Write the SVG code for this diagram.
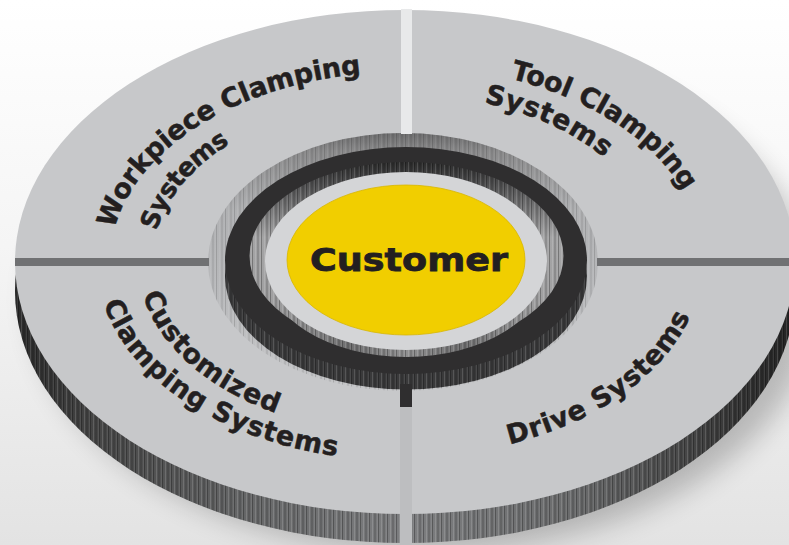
<svg xmlns="http://www.w3.org/2000/svg" width="789" height="545" viewBox="0 0 789 545">
  <style>
    .lbl { font-family: "DejaVu Sans", "Liberation Sans", sans-serif; font-weight: bold; font-size: 27px; letter-spacing: 0.8px; fill: #231f20; stroke: #231f20; stroke-width: 0.5px; }
    .tight { letter-spacing: -0.2px; }
    .ctr { font-family: "DejaVu Sans", "Liberation Sans", sans-serif; font-weight: bold; font-size: 32px; fill: #231f20; stroke: #231f20; stroke-width: 0.8px; }
  </style>
  <defs>
    <linearGradient id="bg" x1="0" y1="0" x2="0" y2="1">
      <stop offset="0" stop-color="#ffffff"/>
      <stop offset="0.45" stop-color="#f5f5f5"/>
      <stop offset="1" stop-color="#e3e3e3"/>
    </linearGradient>
    <linearGradient id="side" gradientUnits="userSpaceOnUse" x1="15" y1="0" x2="795" y2="0">
      <stop offset="0" stop-color="#2a2a2a"/>
      <stop offset="0.1" stop-color="#454545"/>
      <stop offset="0.3" stop-color="#666768"/>
      <stop offset="0.5" stop-color="#7d7e80"/>
      <stop offset="0.72" stop-color="#6a6b6c"/>
      <stop offset="0.9" stop-color="#3c3c3c"/>
      <stop offset="1" stop-color="#222222"/>
    </linearGradient>
    <pattern id="stripes" width="9" height="10" patternUnits="userSpaceOnUse">
      <rect x="0" y="0" width="1" height="10" fill="#000" opacity="0.28"/>
      <rect x="3" y="0" width="1" height="10" fill="#fff" opacity="0.14"/>
      <rect x="5" y="0" width="2" height="10" fill="#000" opacity="0.14"/>
      <rect x="8" y="0" width="1" height="10" fill="#fff" opacity="0.08"/>
    </pattern>
    <linearGradient id="hole" gradientUnits="userSpaceOnUse" x1="0" y1="133" x2="0" y2="391">
      <stop offset="0" stop-color="#6c6c6d"/>
      <stop offset="0.07" stop-color="#8a8a8b"/>
      <stop offset="0.3" stop-color="#b0b1b3"/>
      <stop offset="1" stop-color="#c4c5c7"/>
    </linearGradient>
    <linearGradient id="inner" gradientUnits="userSpaceOnUse" x1="0" y1="162" x2="0" y2="350">
      <stop offset="0" stop-color="#2b2b2b"/>
      <stop offset="0.1" stop-color="#4a4a4b"/>
      <stop offset="0.4" stop-color="#a4a4a5"/>
      <stop offset="0.75" stop-color="#a0a0a1"/>
      <stop offset="1" stop-color="#6a6a6a"/>
    </linearGradient>
    <linearGradient id="lside" gradientUnits="userSpaceOnUse" x1="265" y1="0" x2="547" y2="0">
      <stop offset="0" stop-color="#a5a5a6"/>
      <stop offset="0.3" stop-color="#6e6e6f"/>
      <stop offset="0.5" stop-color="#909091"/>
      <stop offset="0.7" stop-color="#6e6e6f"/>
      <stop offset="1" stop-color="#a5a5a6"/>
    </linearGradient>
    <filter id="blur" x="-20%" y="-20%" width="140%" height="140%">
      <feGaussianBlur stdDeviation="14"/>
    </filter>
    <path id="p-wcs1" d="M114.4,229 A292,190 0 0 1 501.9,83.5"/>
    <path id="p-wcs2" d="M156.6,230.9 A250,163 0 0 1 487.5,108.8"/>
    <path id="p-tcs1" d="M510.2,78.5 A302,196.6 0 0 1 685.8,329.2"/>
    <path id="p-tcs2" d="M483.9,102.7 A258,168 0 0 1 644.4,319.5"/>
    <path id="p-ccs1" d="M142.9,294.8 A264,171.9 0 0 0 492.3,423.5"/>
    <path id="p-ccs2" d="M103.7,303.3 A305,198.6 0 0 0 554.5,434"/>
    <path id="p-ds" d="M509.5,444.3 A300,195.3 0 0 0 683.9,195.2"/>
  </defs>

  <rect width="789" height="545" fill="url(#bg)"/>
  <ellipse cx="425" cy="300" rx="392" ry="252" fill="#000" opacity="0.22" filter="url(#blur)"/>

  <g id="disc">
    <ellipse cx="405" cy="291" rx="390" ry="252" fill="url(#side)"/>
    <ellipse cx="405" cy="291" rx="390" ry="252" fill="url(#stripes)"/>
    <ellipse cx="405" cy="262" rx="390" ry="252" fill="#c7c8ca"/>
  </g>

  <g id="center">
    <ellipse cx="403" cy="262" rx="195" ry="129" fill="url(#hole)"/>
    <ellipse cx="403" cy="262" rx="195" ry="129" fill="url(#stripes)" opacity="0.5"/>
    <ellipse cx="406" cy="276" rx="181" ry="113.5" fill="#3a3a3b"/>
    <ellipse cx="406" cy="276" rx="181" ry="113.5" fill="url(#stripes)"/>
    <ellipse cx="406" cy="260.5" rx="181" ry="113.5" fill="#2f2e2f"/>
    <ellipse cx="406.5" cy="256" rx="157" ry="94" fill="url(#inner)"/>
    <ellipse cx="406.5" cy="256" rx="157" ry="94" fill="url(#stripes)"/>
    <ellipse cx="406" cy="268" rx="141" ry="89" fill="url(#lside)"/>
    <ellipse cx="406" cy="268" rx="141" ry="89" fill="url(#stripes)"/>
    <ellipse cx="406" cy="261" rx="141" ry="89" fill="#d4d5d7"/>
    <ellipse cx="406" cy="260" rx="119" ry="75" fill="#f1ce00" stroke="#d8b600" stroke-width="0.8"/>
    <text class="ctr" x="310" y="271" textLength="198" lengthAdjust="spacingAndGlyphs">Customer</text>
  </g>

  <g id="connectors">
    <rect x="401" y="9" width="11" height="125" fill="#e8e9ea"/>
    <rect x="15" y="258" width="194" height="8" fill="#707173"/>
    <rect x="597" y="258" width="200" height="8" fill="#707173"/>
    <rect x="400" y="390" width="12" height="155" fill="#bdbec0"/>
    <rect x="400" y="384" width="12" height="23" fill="#2f2e2f"/>
  </g>

  <g id="workpiece-clamping">
    <text class="lbl tight"><textPath href="#p-wcs1">Workpiece Clamping</textPath></text>
    <text class="lbl" style="font-size:25.5px;letter-spacing:-0.8px"><textPath href="#p-wcs2">Systems</textPath></text>
  </g>
  <g id="tool-clamping">
    <text class="lbl" style="letter-spacing:-0.1px"><textPath href="#p-tcs1">Tool Clamping</textPath></text>
    <text class="lbl"><textPath href="#p-tcs2">Systems</textPath></text>
  </g>
  <g id="customized-clamping">
    <text class="lbl"><textPath href="#p-ccs1">Customized</textPath></text>
    <text class="lbl"><textPath href="#p-ccs2">Clamping Systems</textPath></text>
  </g>
  <g id="drive-systems">
    <text class="lbl"><textPath href="#p-ds">Drive Systems</textPath></text>
  </g>
</svg>
